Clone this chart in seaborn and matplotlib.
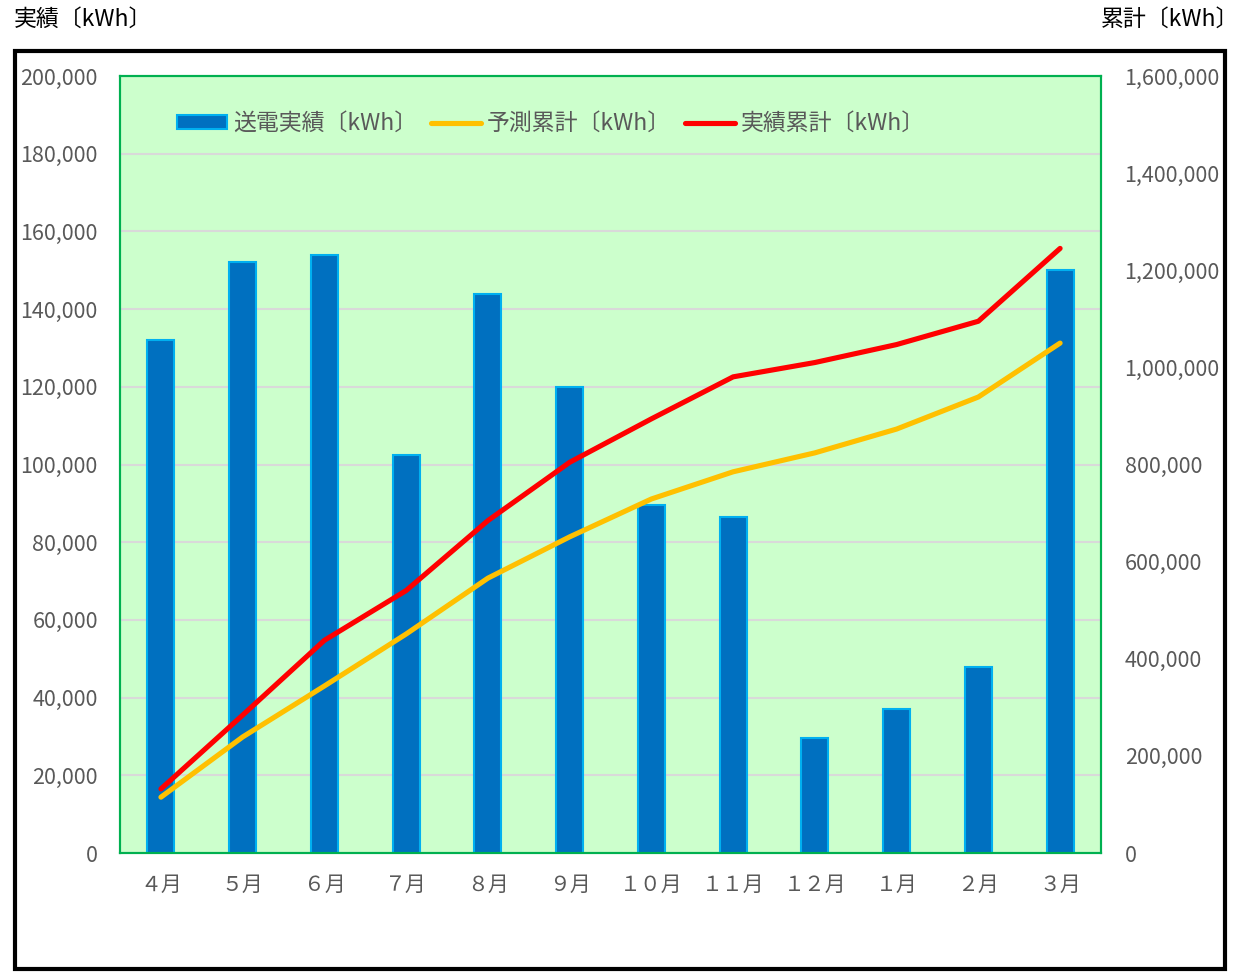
import matplotlib
matplotlib.use("Agg")
import matplotlib.pyplot as plt
import matplotlib.ticker as mticker
from matplotlib.patches import Rectangle, Patch
from matplotlib.lines import Line2D
import seaborn as sns
import pandas as pd

# DATA
months = ["４月", "５月", "６月", "７月", "８月", "９月", "１０月", "１１月", "１２月", "１月", "２月", "３月"]
sent = [132000, 152000, 154000, 102500, 144000, 120000, 89500, 86500, 29500, 37000, 48000, 150000]
forecast_cum = [115000, 239000, 344000, 451000, 566000, 651000, 729000, 785000, 824000, 873000, 939000, 1050000]
actual_cum = [132000, 284000, 438000, 540500, 684500, 804500, 894000, 980500, 1010000, 1047000, 1095000, 1245000]

df = pd.DataFrame({"month": months, "sent": sent,
                   "forecast": forecast_cum, "actual": actual_cum})

sns.set_style("white")
plt.rcParams["font.family"] = ["Noto Sans CJK JP", "DejaVu Sans"]

grey = "#595959"
fig = plt.figure(figsize=(12.39, 9.73), dpi=100)
ax = fig.add_axes([0.0969, 0.1233, 0.7917, 0.7986])
ax.set_facecolor("#CCFFCC")

sns.barplot(data=df, x="month", y="sent", ax=ax, color="#0070C0",
            width=0.33, edgecolor="#00B0F0", linewidth=1.5, saturation=1, zorder=2)
ax.set_ylim(0, 200000)
ax.set_yticks(range(0, 200001, 20000))
ax.yaxis.set_major_formatter(mticker.StrMethodFormatter("{x:,.0f}"))
ax.grid(axis="y", color="#D9D9D9", linewidth=1.5, zorder=0)
ax.set_axisbelow(True)
ax.set_xlabel("")
ax.set_ylabel("")
ax.tick_params(axis="y", labelsize=15.5, labelcolor=grey, length=0, pad=16)
ax.tick_params(axis="x", labelsize=15, labelcolor=grey, length=0, pad=15)
ax.set_xlim(-0.5, len(months) - 0.5)

# cumulative lines on the right axis
ax2 = ax.twinx()
sns.lineplot(x=list(range(len(months))), y=forecast_cum, ax=ax2, color="#FFC000",
             linewidth=3.7, solid_capstyle="round", sort=False)
sns.lineplot(x=list(range(len(months))), y=actual_cum, ax=ax2, color="#FF0000",
             linewidth=3.7, solid_capstyle="round", sort=False)
ax2.set_ylim(0, 1600000)
ax2.set_yticks(range(0, 1600001, 200000))
ax2.yaxis.set_major_formatter(mticker.StrMethodFormatter("{x:,.0f}"))
ax2.tick_params(axis="y", labelsize=15.5, labelcolor=grey, length=0, pad=17)
ax2.set_ylabel("")
ax2.grid(False)

for a in (ax, ax2):
    for s in a.spines.values():
        s.set_color("#00B050")
        s.set_linewidth(1.5)

handles = [Patch(facecolor="#0070C0", edgecolor="#00B0F0", linewidth=1.5),
           Line2D([], [], color="#FFC000", linewidth=3.7, solid_capstyle="round"),
           Line2D([], [], color="#FF0000", linewidth=3.7, solid_capstyle="round")]
labels = ["送電実績〔kWh〕", "予測累計〔kWh〕", "実績累計〔kWh〕"]
ax2.legend(handles, labels, loc="upper left", bbox_to_anchor=(0.037, 0.98), ncol=3,
           frameon=False, fontsize=16.5, labelcolor=grey, handlelength=2.2,
           handleheight=0.55, handletextpad=0.25, columnspacing=0.6)

fig.text(0.011, 0.968, "実績〔kWh〕", fontsize=16.5, color="black", va="bottom")
fig.text(1.0, 0.968, "累計〔kWh〕", fontsize=16.5, color="black", va="bottom", ha="right")

fig.patches.append(Rectangle((0.0125, 0.004), 0.9765, 0.9436, transform=fig.transFigure,
                             fill=False, edgecolor="black", linewidth=3))

fig.savefig("out.png", dpi=100)
